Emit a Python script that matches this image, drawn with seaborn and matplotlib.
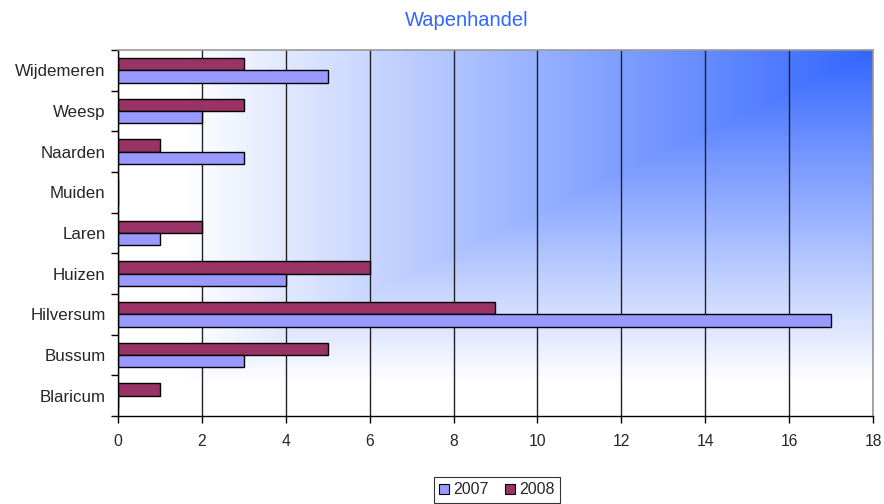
import numpy as np
import pandas as pd
import matplotlib
matplotlib.use("Agg")
import matplotlib.pyplot as plt
from matplotlib.patches import Patch
from matplotlib.colors import to_rgb
import seaborn as sns

# Municipalities, listed top to bottom as drawn
gemeenten = ["Wijdemeren", "Weesp", "Naarden", "Muiden", "Laren",
             "Huizen", "Hilversum", "Bussum", "Blaricum"]
waarden_2007 = [5, 2, 3, 0, 1, 4, 17, 3, 0]
waarden_2008 = [3, 3, 1, 0, 2, 6, 9, 5, 1]
jaren = ["2007", "2008"]
kleuren = {"2007": "#9999FF", "2008": "#993366"}

df = pd.DataFrame({
    "gemeente": gemeenten * 2,
    "jaar": ["2007"] * len(gemeenten) + ["2008"] * len(gemeenten),
    "aantal": waarden_2007 + waarden_2008,
})

sns.set_theme(style="white")
plt.rcParams["font.family"] = ["Liberation Sans", "DejaVu Sans"]

fig = plt.figure(figsize=(8.84, 5.04), dpi=100)
ax = fig.add_axes([118 / 884, 1 - 416 / 504, (873 - 118) / 884, (416 - 50) / 504])

# Corner gradient: strong blue in the top-right, fading to white
ny, nx = 300, 600
xs = np.linspace(0, 1, nx)
ys = np.linspace(0, 1, ny)
X, Y = np.meshgrid(xs, ys)
m = np.maximum(1 - X, Y)
s = np.clip(m * 1.1, 0, 1)[..., None]
corner = np.array(to_rgb("#3366FF"))
img = corner * (1 - s) + np.ones(3) * s
ax.imshow(img, extent=[0, 1, 0, 1], transform=ax.transAxes,
          aspect="auto", origin="upper", zorder=0, interpolation="bilinear")

sns.barplot(data=df, y="gemeente", x="aantal", hue="jaar",
            order=gemeenten, hue_order=["2008", "2007"], palette=kleuren,
            orient="h", width=0.6, edgecolor="black", linewidth=1.0,
            saturation=1, errorbar=None, legend=False, ax=ax, zorder=2)

ax.set_xlim(0, 18)
ax.set_ylim(len(gemeenten) - 0.5, -0.5)
ax.set_xticks(np.arange(0, 19, 2))
ax.tick_params(axis="x", direction="out", length=5, width=1, color="black",
               labelsize=11.3, pad=8, bottom=True)
ax.grid(axis="x", color="#222222", linewidth=1.0, zorder=1)
ax.grid(axis="y", visible=False)

# Tick marks between categories, labels at the centres
ax.set_yticks(np.arange(-0.5, len(gemeenten), 1))
ax.set_yticklabels([])
ax.set_yticks(np.arange(len(gemeenten)), minor=True)
ax.set_yticklabels(gemeenten, minor=True)
ax.tick_params(axis="y", which="major", direction="out", length=5, width=1,
               color="black", left=True)
ax.tick_params(axis="y", which="minor", length=0, labelsize=12.2, pad=9)

ax.set_xlabel("")
ax.set_ylabel("")
for side in ("left", "bottom"):
    ax.spines[side].set_color("black")
    ax.spines[side].set_linewidth(1.0)
for side in ("top", "right"):
    ax.spines[side].set_color("#999999")
    ax.spines[side].set_linewidth(1.2)
for sp in ax.spines.values():
    sp.set_zorder(3)

fig.text(467 / 884, 1 - 21 / 504, "Wapenhandel", color="#3366FF",
         fontsize=14.5, ha="center", va="center")

handles = [Patch(facecolor=kleuren[j], edgecolor="black", linewidth=0.8, label=j)
           for j in jaren]
leg = fig.legend(handles=handles, loc="center", ncol=2,
                 bbox_to_anchor=(497 / 884, 1 - 490 / 504),
                 frameon=True, fancybox=False, fontsize=11.5,
                 handlelength=0.6, handleheight=0.6, handletextpad=0.3,
                 columnspacing=1.0, borderpad=0.35)
leg.get_frame().set_edgecolor("black")
leg.get_frame().set_linewidth(0.8)

fig.savefig("out.png", dpi=100, facecolor="white")
